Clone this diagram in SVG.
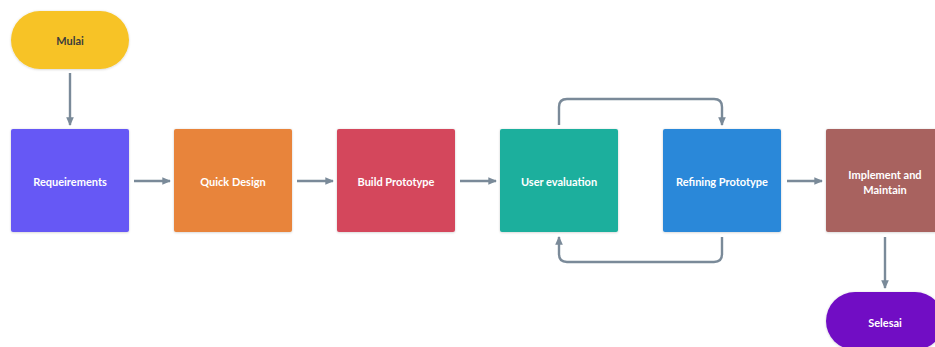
<svg xmlns="http://www.w3.org/2000/svg" width="935" height="347" viewBox="0 0 935 347">
<defs>
<marker id="ah" viewBox="0 0 10 10" refX="8" refY="5" markerWidth="4" markerHeight="4" orient="auto" markerUnits="strokeWidth">
<path d="M0,1 L9,5 L0,9 Z" fill="#7a8a99"/>
</marker>
<filter id="sh" x="-10%" y="-10%" width="120%" height="120%"><feDropShadow dx="0" dy="0.5" stdDeviation="0.8" flood-color="#000" flood-opacity="0.2"/></filter>
</defs>
<style>
.lbl{font-family:"Lato","Noto Sans",sans-serif;font-size:11px;font-weight:bold;fill:#ffffff;text-anchor:middle;dominant-baseline:central}
.dark{fill:#3c3c3c}
.con{fill:none;stroke:#7a8a99;stroke-width:2.4;marker-end:url(#ah)}
.box{filter:url(#sh)}
</style>
<rect width="935" height="347" fill="#ffffff"/>
<g id="connectors">
<path class="con" d="M70,73 V125"/>
<path class="con" d="M134,181 H170"/>
<path class="con" d="M297,181 H333"/>
<path class="con" d="M460,181 H496"/>
<path class="con" d="M787,181 H822"/>
<path class="con" d="M559,125 V107 Q559,99 567,99 H714 Q722,99 722,107 V125"/>
<path class="con" d="M722,237 V254 Q722,262 714,262 H567 Q559,262 559,254 V237"/>
<path class="con" d="M885,237 V288"/>
</g>
<g id="mulai"><rect class="box" x="11" y="11" width="118" height="58" rx="29" fill="#f7c325"/><text class="lbl dark" x="70" y="40">Mulai</text></g>
<g id="requeirements"><rect class="box" x="11" y="129" width="118" height="103" rx="2" fill="#6658f5"/><text class="lbl" x="70" y="181">Requeirements</text></g>
<g id="quick-design"><rect class="box" x="174" y="129" width="118" height="103" rx="2" fill="#e8843a"/><text class="lbl" x="233" y="181">Quick Design</text></g>
<g id="build-prototype"><rect class="box" x="337" y="129" width="118" height="103" rx="2" fill="#d4475b"/><text class="lbl" x="396" y="181">Build Prototype</text></g>
<g id="user-evaluation"><rect class="box" x="500" y="129" width="118" height="103" rx="2" fill="#1aaf9d"/><text class="lbl" x="559" y="181">User evaluation</text></g>
<g id="refining-prototype"><rect class="box" x="663" y="129" width="118" height="103" rx="2" fill="#2c88d9"/><text class="lbl" x="722" y="181">Refining Prototype</text></g>
<g id="implement"><rect class="box" x="826" y="129" width="118" height="103" rx="2" fill="#a8625f"/><text class="lbl" x="885" y="174">Implement and</text><text class="lbl" x="885" y="189">Maintain</text></g>
<g id="selesai"><rect class="box" x="826" y="292" width="118" height="58" rx="29" fill="#7111c4"/><text class="lbl" x="885" y="322">Selesai</text></g>
</svg>
